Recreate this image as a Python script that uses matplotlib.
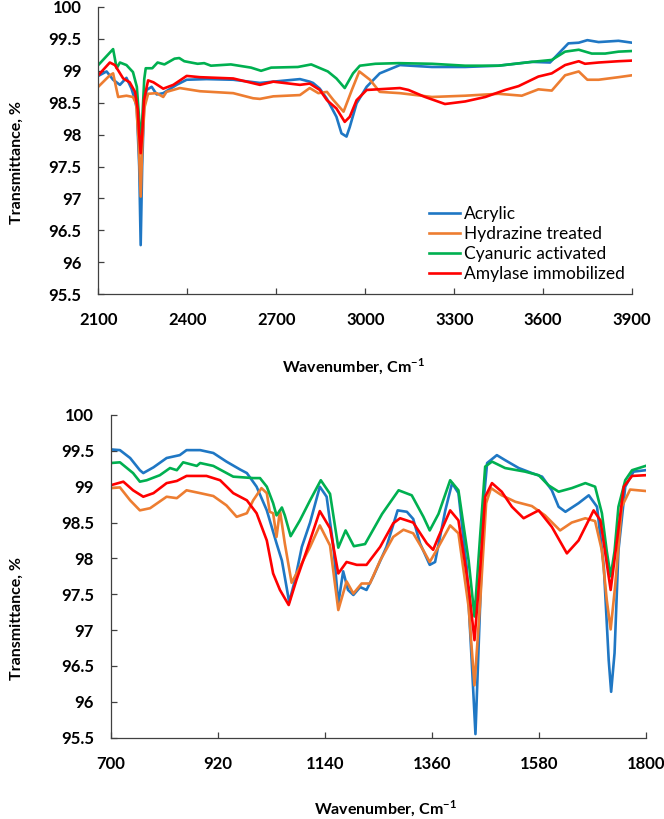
import matplotlib
matplotlib.use("Agg")
import matplotlib.pyplot as plt

plt.rcParams["font.family"] = ["Lato", "DejaVu Sans"]

# --- top panel: 2100-3900 cm-1 ---
top_acr_x = [2100, 2128, 2150, 2173, 2195, 2212, 2224, 2230, 2238, 2243, 2248, 2254, 2263, 2280, 2297,
             2319, 2364, 2398, 2465, 2555, 2645, 2690, 2780, 2813, 2824, 2847, 2871, 2903, 2920, 2937,
             2948, 2971, 3005, 3049, 3117, 3225, 3337, 3449, 3562, 3623, 3652, 3685, 3720, 3749, 3787,
             3854, 3900]
top_acr_y = [98.92, 98.99, 98.86, 98.78, 98.89, 98.72, 98.54, 98.4, 97.5, 96.27, 97.5, 98.4, 98.7, 98.75, 98.63,
             98.65, 98.78, 98.86, 98.87, 98.86, 98.81, 98.83, 98.87, 98.83, 98.81, 98.72, 98.56, 98.28, 98.02, 97.97,
             98.12, 98.49, 98.75, 98.96, 99.09, 99.06, 99.06, 99.08, 99.14, 99.13, 99.27, 99.43, 99.44, 99.48, 99.45,
             99.47, 99.44]

top_hyd_x = [2100, 2139, 2150, 2167, 2195, 2217, 2228, 2236, 2243, 2249, 2256, 2268, 2297, 2319, 2330,
             2375, 2443, 2555, 2622, 2645, 2690, 2780, 2813, 2842, 2871, 2893, 2927, 2955, 2980, 3016,
             3049, 3117, 3225, 3337, 3449, 3528, 3584, 3629, 3674, 3720, 3749, 3787, 3854, 3900]
top_hyd_y = [98.75, 98.93, 98.96, 98.59, 98.61, 98.59, 98.48, 97.9, 97.03, 97.9, 98.43, 98.64, 98.65, 98.59, 98.67,
             98.73, 98.68, 98.65, 98.57, 98.56, 98.6, 98.62, 98.73, 98.65, 98.67, 98.54, 98.36, 98.7, 98.99, 98.86,
             98.67, 98.65, 98.59, 98.61, 98.64, 98.61, 98.71, 98.69, 98.93, 98.99, 98.86, 98.86, 98.9, 98.93]

top_cya_x = [2100, 2150, 2162, 2173, 2195, 2217, 2230, 2237, 2243, 2249, 2255, 2260, 2282, 2300, 2323,
             2357, 2373, 2390, 2435, 2457, 2480, 2547, 2615, 2649, 2683, 2773, 2818, 2874, 2903, 2931,
             2959, 2982, 3034, 3112, 3225, 3337, 3449, 3562, 3629, 3674, 3720, 3764, 3809, 3854, 3900]
top_cya_y = [99.09, 99.34, 99.04, 99.13, 99.09, 98.98, 98.75, 98.3, 97.85, 98.3, 98.87, 99.04, 99.04, 99.13, 99.1,
             99.19, 99.2, 99.15, 99.11, 99.12, 99.08, 99.1, 99.05, 99.0, 99.05, 99.06, 99.1, 98.99, 98.88, 98.73,
             98.96, 99.08, 99.11, 99.12, 99.11, 99.08, 99.08, 99.14, 99.17, 99.3, 99.33, 99.27, 99.27, 99.3, 99.31]

top_amy_x = [2100, 2139, 2156, 2184, 2206, 2224, 2233, 2238, 2243, 2248, 2254, 2268, 2286, 2319, 2353,
             2398, 2443, 2555, 2645, 2690, 2780, 2813, 2847, 2871, 2903, 2931, 2948, 2971, 3005, 3117,
             3146, 3202, 3269, 3337, 3405, 3472, 3517, 3584, 3629, 3674, 3720, 3741, 3787, 3854, 3900]
top_amy_y = [98.93, 99.13, 99.09, 98.88, 98.82, 98.67, 98.4, 98.0, 97.71, 98.0, 98.54, 98.85, 98.82, 98.72, 98.78,
             98.92, 98.9, 98.88, 98.78, 98.83, 98.78, 98.8, 98.7, 98.54, 98.41, 98.2, 98.28, 98.54, 98.7, 98.73,
             98.7, 98.59, 98.48, 98.52, 98.59, 98.7, 98.76, 98.91, 98.96, 99.09, 99.15, 99.11, 99.13, 99.15, 99.16]

# --- bottom panel: 700-1800 cm-1 ---
bot_acr_x = [700, 719, 740, 760, 767, 788, 815, 842, 856, 884, 911, 938, 966, 980, 1000, 1021, 1041, 1052,
             1058, 1067, 1079, 1093, 1110, 1130, 1144, 1158, 1168, 1178, 1188, 1199, 1213, 1226, 1240, 1267,
             1290, 1309, 1322, 1336, 1356, 1367, 1388, 1402, 1415, 1432, 1443, 1450, 1460, 1467, 1474, 1494,
             1511, 1539, 1566, 1587, 1607, 1621, 1635, 1662, 1683, 1700, 1714, 1724, 1729, 1736, 1744, 1758,
             1775, 1800]
bot_acr_y = [99.52, 99.51, 99.4, 99.23, 99.19, 99.27, 99.4, 99.44, 99.51, 99.51, 99.47, 99.35, 99.24, 99.19,
             99.0, 98.67, 98.21, 97.97, 97.74, 97.39, 97.7, 98.16, 98.5, 99.0, 98.86, 98.16, 97.37, 97.82, 97.56,
             97.49, 97.6, 97.56, 97.75, 98.16, 98.67, 98.65, 98.55, 98.21, 97.91, 97.95, 98.67, 99.05, 98.91,
             97.88, 96.48, 95.55, 97.42, 98.81, 99.33, 99.44, 99.37, 99.26, 99.19, 99.14, 98.95, 98.72, 98.65,
             98.77, 98.88, 98.72, 97.88, 96.58, 96.14, 96.68, 98.11, 99.0, 99.21, 99.23]

bot_hyd_x = [700, 719, 740, 760, 781, 815, 836, 856, 884, 911, 938, 959, 980, 993, 1010, 1021, 1027, 1034,
             1041, 1048, 1058, 1072, 1089, 1110, 1130, 1151, 1168, 1185, 1199, 1216, 1233, 1254, 1281, 1302,
             1322, 1343, 1356, 1373, 1398, 1415, 1436, 1448, 1460, 1472, 1482, 1504, 1532, 1566, 1593, 1624,
             1648, 1676, 1696, 1710, 1720, 1728, 1737, 1751, 1768, 1800]
bot_hyd_y = [98.98, 98.99, 98.81, 98.67, 98.7, 98.86, 98.84, 98.95, 98.91, 98.87, 98.74, 98.58, 98.63, 98.81,
             98.98, 98.91, 98.65, 98.63, 98.3, 98.67, 98.21, 97.66, 97.88, 98.16, 98.46, 98.18, 97.28, 97.68,
             97.51, 97.65, 97.65, 97.97, 98.3, 98.4, 98.35, 98.11, 97.95, 98.15, 98.46, 98.35, 97.32, 96.23,
             97.42, 98.77, 98.98, 98.88, 98.79, 98.73, 98.6, 98.39, 98.5, 98.56, 98.52, 98.11, 97.42, 97.01,
             97.6, 98.72, 98.96, 98.94]

bot_cya_x = [700, 719, 746, 760, 774, 801, 822, 836, 849, 877, 884, 911, 952, 993, 1007, 1021, 1034, 1041,
             1052, 1058, 1070, 1089, 1110, 1132, 1151, 1168, 1183, 1200, 1223, 1258, 1292, 1319, 1343, 1356,
             1374, 1398, 1415, 1436, 1448, 1460, 1470, 1484, 1511, 1552, 1580, 1600, 1621, 1648, 1676, 1696,
             1710, 1720, 1728, 1736, 1744, 1758, 1772, 1800]
bot_cya_y = [99.33, 99.34, 99.19, 99.07, 99.09, 99.16, 99.26, 99.23, 99.34, 99.29, 99.33, 99.29, 99.14, 99.12,
             99.12, 99.0, 98.77, 98.6, 98.71, 98.6, 98.31, 98.53, 98.81, 99.09, 98.9, 98.15, 98.39, 98.17, 98.2,
             98.62, 98.95, 98.88, 98.58, 98.39, 98.62, 99.09, 98.95, 97.97, 97.19, 98.35, 99.28, 99.35, 99.26,
             99.21, 99.16, 99.02, 98.93, 98.98, 99.05, 99.0, 98.63, 98.1, 97.75, 98.1, 98.72, 99.09, 99.23, 99.29]

bot_amy_x = [700, 726, 746, 767, 788, 815, 836, 856, 897, 925, 952, 980, 1000, 1021, 1034, 1048, 1066, 1082,
             1103, 1130, 1151, 1168, 1185, 1206, 1226, 1254, 1281, 1295, 1322, 1350, 1363, 1374, 1398, 1415,
             1436, 1448, 1460, 1470, 1484, 1504, 1525, 1549, 1580, 1607, 1638, 1662, 1693, 1707, 1717, 1728,
             1741, 1755, 1772, 1800]
bot_amy_y = [99.02, 99.07, 98.95, 98.86, 98.91, 99.05, 99.08, 99.15, 99.15, 99.09, 98.91, 98.81, 98.63, 98.25,
             97.79, 97.56, 97.35, 97.7, 98.11, 98.66, 98.42, 97.79, 97.95, 97.91, 97.91, 98.16, 98.49, 98.56,
             98.5, 98.21, 98.12, 98.3, 98.67, 98.53, 97.6, 96.86, 97.88, 98.86, 99.05, 98.93, 98.72, 98.56,
             98.67, 98.44, 98.07, 98.25, 98.67, 98.53, 98.07, 97.56, 98.25, 99.0, 99.15, 99.16]

labels = ["Acrylic", "Hydrazine treated", "Cyanuric activated", "Amylase immobilized"]
colors = ["#1f77c4", "#ed7d31", "#00b050", "#ff0000"]
y_ticks = [95.5, 96, 96.5, 97, 97.5, 98, 98.5, 99, 99.5, 100]
y_ticklabels = ["95.5", "96", "96.5", "97", "97.5", "98", "98.5", "99", "99.5", "100"]
top_xticks = [2100, 2400, 2700, 3000, 3300, 3600, 3900]
bot_xticks = [700, 920, 1140, 1360, 1580, 1800]

fig = plt.figure(figsize=(6.64, 8.19), dpi=100)
ax1 = fig.add_axes([0.148, 0.6407, 0.804, 0.3508])
ax2 = fig.add_axes([0.1667, 0.0993, 0.8057, 0.394])

top = [(top_acr_x, top_acr_y), (top_hyd_x, top_hyd_y), (top_cya_x, top_cya_y), (top_amy_x, top_amy_y)]
bot = [(bot_acr_x, bot_acr_y), (bot_hyd_x, bot_hyd_y), (bot_cya_x, bot_cya_y), (bot_amy_x, bot_amy_y)]

for (x, y), c, lab in zip(top, colors, labels):
    ax1.plot(x, y, color=c, linewidth=1.9, label=lab, solid_joinstyle="round")
for (x, y), c in zip(bot, colors):
    ax2.plot(x, y, color=c, linewidth=1.9, solid_joinstyle="round")

for ax, xt in [(ax1, top_xticks), (ax2, bot_xticks)]:
    ax.set_xlim(xt[0], xt[-1])
    ax.set_ylim(95.5, 100)
    ax.set_xticks(xt)
    ax.set_xticklabels([str(v) for v in xt], fontweight="bold", fontsize=12)
    ax.set_yticks(y_ticks)
    ax.set_yticklabels(y_ticklabels, fontweight="bold", fontsize=12)
    for s in ["top", "right"]:
        ax.spines[s].set_visible(False)
    for s in ["left", "bottom"]:
        ax.spines[s].set_color("#404040")
        ax.spines[s].set_linewidth(0.9)
    ax.tick_params(direction="in", length=4.5, width=0.9, color="#404040")
    ax.tick_params(axis="y", pad=12)
    ax.tick_params(axis="x", pad=13)

fig.text(0.532, 0.552, "Wavenumber, Cm$^{\\mathregular{-1}}$", ha="center", va="center",
         fontsize=11.5, fontweight="bold")
fig.text(0.58, 0.0122, "Wavenumber, Cm$^{\\mathregular{-1}}$", ha="center", va="center",
         fontsize=11.5, fontweight="bold")
fig.text(0.025, 1 - 162 / 819, "Transmittance, %", rotation=90, ha="center", va="center",
         fontsize=11.5, fontweight="bold")
fig.text(0.025, 1 - 618 / 819, "Transmittance, %", rotation=90, ha="center", va="center",
         fontsize=11.5, fontweight="bold")

ax1.legend(loc="upper left", bbox_to_anchor=(429 / 664, 1 - 206 / 819), bbox_transform=fig.transFigure,
           frameon=False, fontsize=12.5, handlelength=1.8, handletextpad=0.2, labelspacing=0.24,
           borderpad=0, borderaxespad=0)

fig.savefig("out.png", dpi=100)
